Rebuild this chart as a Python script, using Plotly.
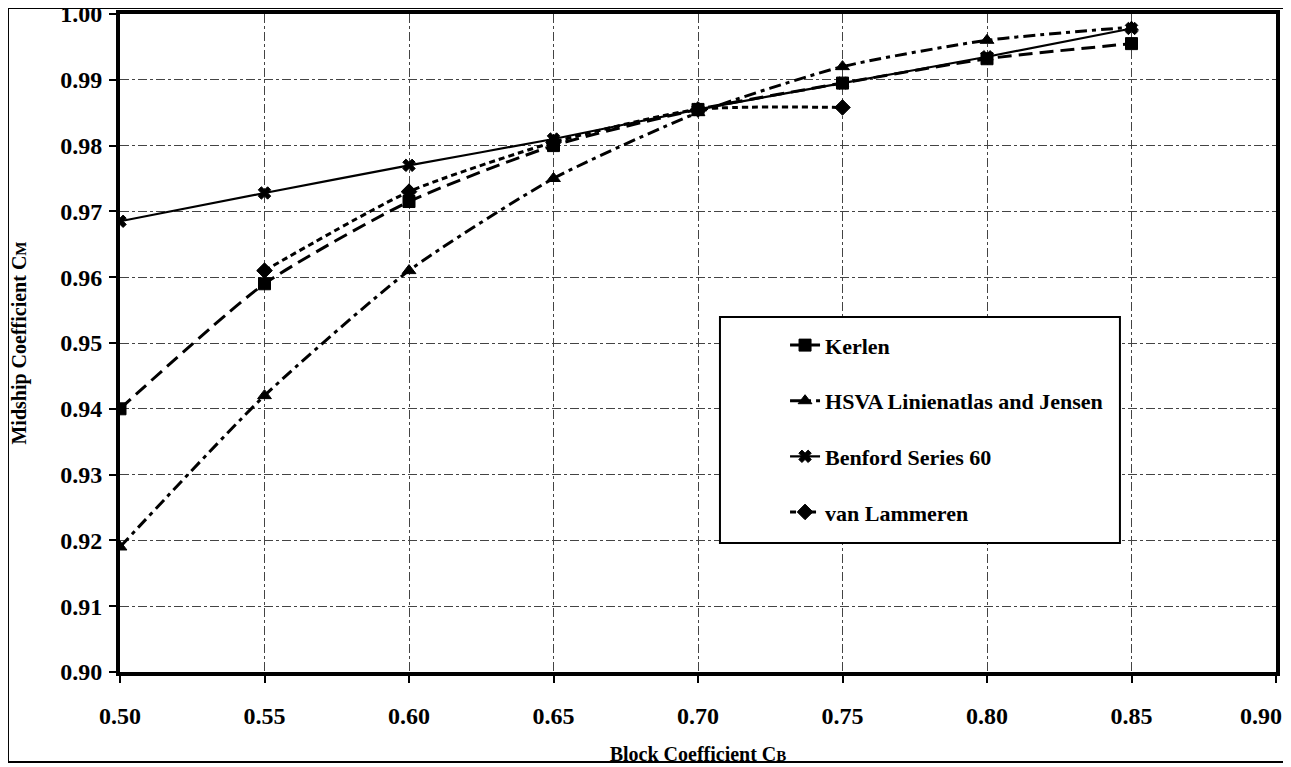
import plotly.graph_objects as go

cb = [0.50, 0.55, 0.60, 0.65, 0.70, 0.75, 0.80, 0.85]
kerlen = [0.940, 0.959, 0.9715, 0.980, 0.9855, 0.9895, 0.9932, 0.9955]
hsva = [0.919, 0.942, 0.961, 0.975, 0.985, 0.992, 0.996, 0.998]
benford = [0.9685, 0.9728, 0.977, 0.981, 0.9855, 0.9895, 0.9935, 0.9978]
lam_cb = [0.55, 0.60, 0.65, 0.70, 0.75]
lammeren = [0.961, 0.973, 0.9805, 0.9855, 0.9858]

x_ticks = [0.50, 0.55, 0.60, 0.65, 0.70, 0.75, 0.80, 0.85, 0.90]
y_ticks = [0.90, 0.91, 0.92, 0.93, 0.94, 0.95, 0.96, 0.97, 0.98, 0.99, 1.00]

FONT = "Liberation Serif"

x_text = [f"{v:.2f}" for v in x_ticks]
last_label = x_text[-1]
x_text[-1] = ""  # last label drawn right-aligned so it stays inside the frame

fig = go.Figure()
series = [
    ("Kerlen", cb, kerlen, "14px,7px", "square", 12, 3),
    ("HSVA Linienatlas and Jensen", cb, hsva, "12px,5px,4px,5px", "triangle-up", 12, 3),
    ("Benford Series 60", cb, benford, "solid", "x", 11, 2.2),
    ("van Lammeren", lam_cb, lammeren, "6px,4px", "diamond", 12, 3),
]
for i, (name, xs, ys, dash, sym, ms, lw) in enumerate(series):
    fig.add_trace(go.Scatter(
        x=xs, y=ys, name=name, mode="lines+markers",
        line=dict(color="black", width=lw, dash=dash, shape="spline", smoothing=0.6),
        marker=dict(symbol=sym, size=ms, color="black", line=dict(color="black", width=1)),
        legendgroup=f"g{i}",
    ))

fig.update_xaxes(
    range=[0.50, 0.90], tickvals=x_ticks, ticktext=x_text,
    showline=True, linecolor="black", linewidth=4, mirror=True,
    ticks="outside", ticklen=7, tickwidth=2, tickcolor="black",
    ticklabelstandoff=12, automargin=False, ticklabeloverflow="allow",
    showgrid=True, gridcolor="#444444", gridwidth=1, griddash="dashdot",
    zeroline=False,
    tickfont=dict(family=FONT, size=24, color="black", weight="bold"),
    title=dict(text="Block Coefficient C<span style='font-size:15px'>B</span>",
               font=dict(family=FONT, size=20, color="black", weight="bold"), standoff=20),
)
fig.update_yaxes(
    range=[0.90, 1.00], tickvals=y_ticks, ticktext=[f"{v:.2f}" for v in y_ticks],
    showline=True, linecolor="black", linewidth=4, mirror=True,
    ticks="outside", ticklen=7, tickwidth=2, tickcolor="black",
    ticklabelstandoff=2, automargin=False, ticklabeloverflow="allow",
    showgrid=True, gridcolor="#444444", gridwidth=1, griddash="dashdot",
    zeroline=False,
    tickfont=dict(family=FONT, size=24, color="black", weight="bold"),
    title=dict(text="Midship Coefficient C<span style='font-size:15px'>M</span>",
               font=dict(family=FONT, size=20, color="black", weight="bold"), standoff=30),
)

fig.add_annotation(
    x=x_ticks[-1], xref="x", y=0, yref="paper",
    text=last_label, showarrow=False,
    xanchor="right", yanchor="middle", xshift=8, yshift=-44,
    font=dict(family=FONT, size=24, color="black", weight="bold"),
)

fig.update_layout(
    width=1283, height=759,
    margin=dict(l=112, r=15, t=6, b=95, autoexpand=False),
    plot_bgcolor="white", paper_bgcolor="white",
    font=dict(family=FONT, color="black"),
    legend=dict(
        x=0.5753, y=0.5284, xanchor="left", yanchor="top",
        borderwidth=0, bgcolor="rgba(0,0,0,0)",
        font=dict(family=FONT, size=22, color="black", weight="bold"),
        tracegroupgap=24,
    ),
    shapes=[
        dict(type="rect", xref="paper", yref="paper",
             x0=0.519, x1=0.865, y0=0.196, y1=0.5395,
             line=dict(color="black", width=2), fillcolor="white", layer="above"),
        dict(type="rect", xref="paper", yref="paper",
             x0=-0.0969, x1=1.0078, y0=-0.1368, y1=1.0091,
             line=dict(color="black", width=2), layer="above"),
    ],
)

fig.write_html("out.html")
